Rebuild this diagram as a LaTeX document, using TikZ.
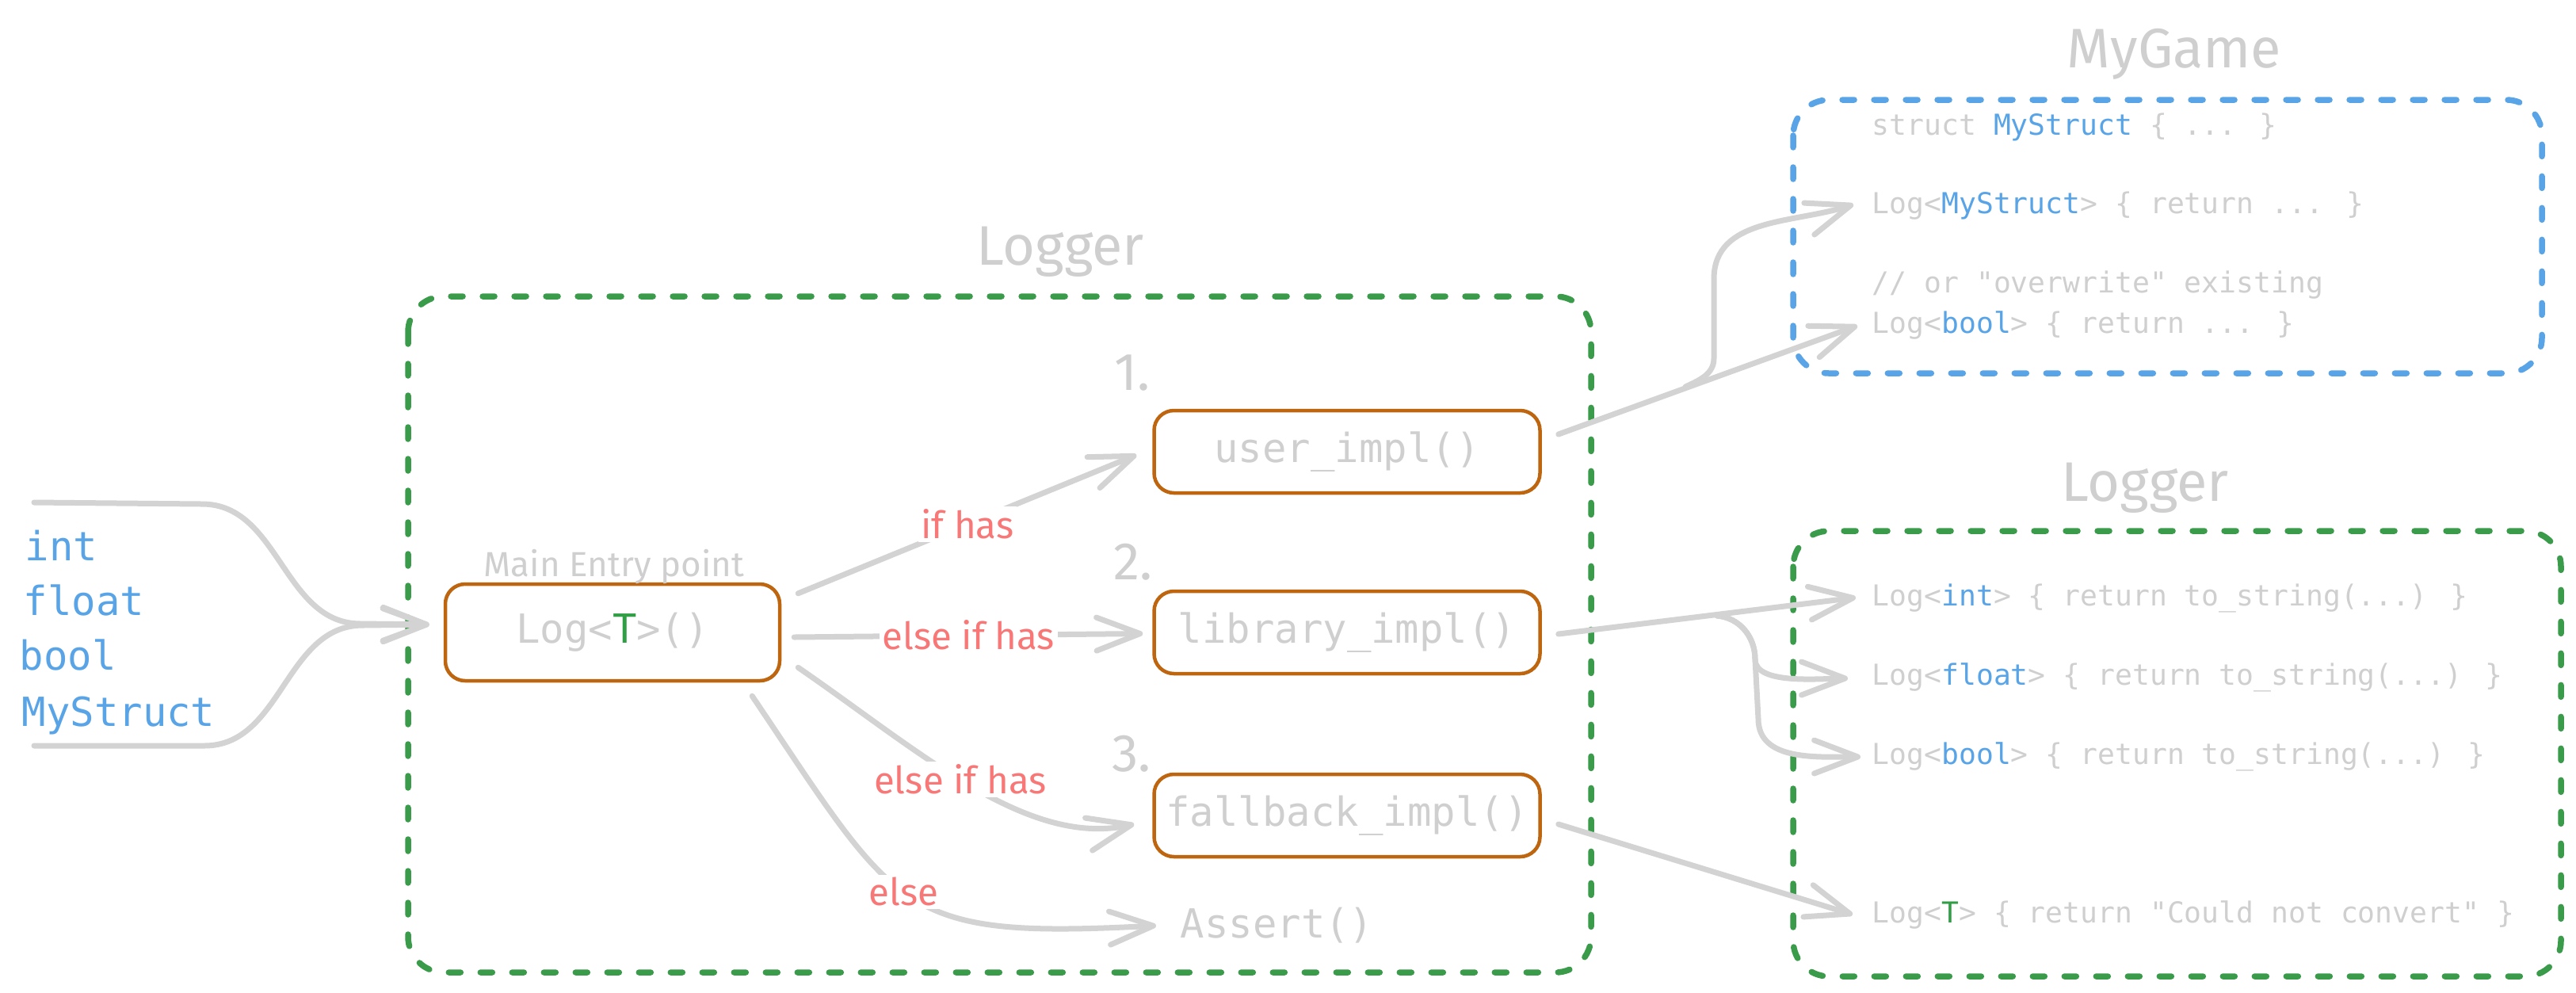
\documentclass[tikz,border=0pt]{standalone}
\usepackage{fontspec}
\setmainfont{Fira Sans}
\newfontfamily\codefont{DejaVu Sans Mono}
\usetikzlibrary{arrows.meta}

\definecolor{linegray}{HTML}{D3D3D3}
\definecolor{txtgray}{HTML}{CFCFCF}
\definecolor{boxorange}{HTML}{BE6510}
\definecolor{grpgreen}{HTML}{3A9B4B}
\definecolor{tgreen}{HTML}{2F9E44}
\definecolor{typeblue}{HTML}{58A4E6}
\definecolor{condred}{HTML}{F87878}

\begin{document}
\begin{tikzpicture}[
  conn/.style={draw=linegray, line width=0.07cm, line cap=round, line join=round,
    -{Straight Barb[length=0.55cm,width=0.42cm,round]}},
  implbox/.style={draw=boxorange, line width=0.045cm, rounded corners=0.25cm,
    minimum width=4.87cm, minimum height=1.04cm, inner sep=0pt, text=txtgray,
    font=\codefont\fontsize{14.4}{16}\selectfont},
  grp/.style={line width=0.075cm, dash pattern=on 0.15cm off 0.25cm, line cap=round, rounded corners=0.45cm},
  title/.style={text=txtgray, font=\fontsize{20}{24}\selectfont, anchor=base, inner sep=0pt},
  num/.style={text=txtgray, font=\fontsize{19}{22}\selectfont, anchor=base, inner sep=0pt},
  cond/.style={text=condred, fill=white, font=\fontsize{13.5}{16}\selectfont, inner sep=1pt},
  code/.style={text=txtgray, font=\codefont\fontsize{10.35}{12}\selectfont, anchor=west, inner sep=0pt},
  intype/.style={text=typeblue, font=\codefont\fontsize{14.4}{16}\selectfont, anchor=base west, inner sep=0pt},
]
\useasboundingbox (0,0) rectangle (32.51,-12.52);

% groups
\draw[grp, draw=grpgreen] (5.15,-3.74) rectangle (20.08,-12.27);
\draw[grp, draw=typeblue] (22.63,-1.26) rectangle (32.08,-4.71);
\draw[grp, draw=grpgreen] (22.63,-6.70) rectangle (32.32,-12.32);

\node[title] (ttlog) at (13.38,-3.34) {Logger};
\node[title] (ttgame) at (27.44,-0.85) {MyGame};
\node[title] (ttlib) at (27.07,-6.32) {Logger};

% input types
\node[intype] (tint) at (0.31,-7.07) {int};
\node[intype] (tfloat) at (0.29,-7.76) {float};
\node[intype] (tbool) at (0.24,-8.45) {bool};
\node[intype] (tstruct) at (0.27,-9.16) {MyStruct};

% logger calls
\node[implbox, minimum width=4.22cm, minimum height=1.22cm] (logT) at (7.73,-7.98) {Log<\textcolor{tgreen}{T}>()};
\node[text=txtgray, font=\fontsize{12.5}{15}\selectfont, anchor=base, inner sep=0pt] (entry) at (7.75,-7.27) {Main Entry point};

\node[implbox] (user) at (17.00,-5.70) {user\_impl()};
\node[implbox] (lib) at (17.00,-7.98) {library\_impl()};
\node[implbox] (fall) at (17.00,-10.29) {fallback\_impl()};
\node[text=txtgray, font=\codefont\fontsize{14.4}{16}\selectfont, anchor=west, inner sep=0pt] (assert) at (14.89,-11.68) {Assert()};

\node[num] (n1) at (14.29,-4.92) {1.};
\node[num] (n2) at (14.30,-7.31) {2.};
\node[num] (n3) at (14.28,-9.73) {3.};

% MyGame
\node[code] (gstruct) at (23.62,-1.60) {struct \textcolor{typeblue}{MyStruct} \{ ... \}};
\node[code] (gmine) at (23.62,-2.60) {Log<\textcolor{typeblue}{MyStruct}> \{ return ... \}};
\node[code] (gnote) at (23.62,-3.60) {// or "overwrite" existing};
\node[code] (gbool) at (23.62,-4.10) {Log<\textcolor{typeblue}{bool}> \{ return ... \}};

% Logger library
\node[code] (lint) at (23.62,-7.55) {Log<\textcolor{typeblue}{int}> \{ return to\_string(...) \}};
\node[code] (lfloat) at (23.62,-8.55) {Log<\textcolor{typeblue}{float}> \{ return to\_string(...) \}};
\node[code] (lbool) at (23.62,-9.55) {Log<\textcolor{typeblue}{bool}> \{ return to\_string(...) \}};
\node[code] (lany) at (23.62,-11.54) {Log<\textcolor{tgreen}{T}> \{ return "Could not convert" \}};

% inputs
\coordinate (intop) at (0.43,-6.34);
\coordinate (inbot) at (0.43,-9.41);
\draw[conn] (intop) -- ++(2.12,-0.02) to[out=0,in=180] ++(2.0,-1.51) -- ([xshift=-0.18cm,yshift=0.1cm]logT.west);
\draw[conn] (inbot) -- ++(2.15,0) to[out=0,in=180] ++(2.0,1.52) -- ([xshift=-0.18cm,yshift=0.1cm]logT.west);

% dispatch
\draw[conn] ([xshift=0.21cm,yshift=-0.14cm]logT.north east) -- node[cond]{if has} ([xshift=-0.2cm,yshift=-0.04cm]user.west);
\draw[conn] ([xshift=0.16cm,yshift=-0.06cm]logT.east) -- node[cond]{else if has} ([xshift=-0.12cm,yshift=-0.015cm]lib.west);
\draw[conn] ([xshift=0.21cm,yshift=0.19cm]logT.south east) .. controls +(1.5,-1.03) and +(-1.36,-0.3) .. node[cond,pos=0.47]{else if has} ([xshift=-0.23cm,yshift=-0.11cm]fall.west);
\draw[conn] ([xshift=-0.37cm,yshift=-0.17cm]logT.south east) .. controls +(1.86,-2.76) and +(-3.26,-0.17) .. node[cond,pos=0.47]{else} ([xshift=-0.3cm]assert.west);

% implementations
\coordinate (ubr) at (21.27,-4.88);
\draw[conn] ([xshift=0.21cm,yshift=0.22cm]user.east) -- ([xshift=-0.18cm,yshift=-0.01cm]gbool.west);
\draw[conn] (ubr) to[out=25,in=-90] ++(0.36,0.36) -- ++(0,1.0) to[out=90,in=198] ([xshift=-0.23cm,yshift=0.02cm]gmine.west);

\coordinate (lbr) at (21.67,-7.77);
\draw[conn] ([xshift=0.21cm,yshift=-0.02cm]lib.east) -- ([xshift=-0.2cm,yshift=0.01cm]lint.west);
\draw[conn] (lbr) to[out=-5,in=90] ++(0.48,-0.55) to[out=-90,in=180,looseness=0.7] ([xshift=-0.3cm,yshift=-0.01cm]lfloat.west);
\draw[conn] (lbr) to[out=-5,in=90] ++(0.48,-0.55) -- ++(0.04,-0.75) to[out=-90,in=180] ([xshift=-0.14cm]lbool.west);

\draw[conn] ([xshift=0.21cm,yshift=-0.11cm]fall.east) -- ([xshift=-0.24cm]lany.west);
\end{tikzpicture}
\end{document}
